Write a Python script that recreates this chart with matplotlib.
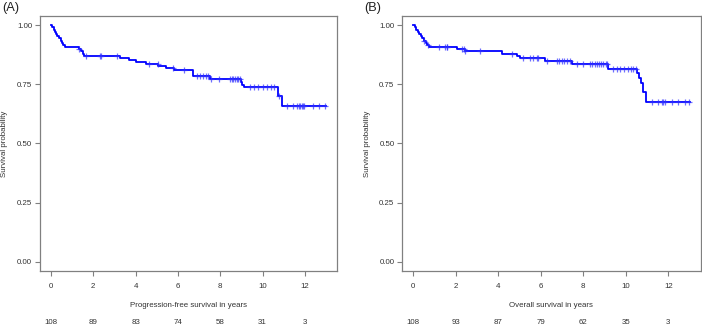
import matplotlib
matplotlib.use("Agg")
import matplotlib.pyplot as plt
import numpy as np

plt.rcParams['font.family'] = ['Liberation Sans', 'DejaVu Sans']

# Panel A: progression-free survival (step times, survival after step, censor times)
pfs_times = [0.00, 0.05, 0.12, 0.19, 0.25, 0.30, 0.38, 0.45, 0.50, 0.58, 0.65,
             1.30, 1.42, 1.50, 1.57, 3.25, 3.69, 4.04, 4.51, 5.06, 5.46, 5.82,
             6.72, 7.50, 8.98, 9.05, 9.12, 10.73, 10.90]
pfs_surv = [1.000, 0.991, 0.981, 0.972, 0.963, 0.954, 0.944, 0.935, 0.926, 0.917, 0.907,
            0.898, 0.889, 0.879, 0.870, 0.861, 0.852, 0.843, 0.834, 0.826, 0.818, 0.811,
            0.785, 0.772, 0.761, 0.749, 0.737, 0.701, 0.658]
pfs_censor = [1.33, 1.65, 2.30, 2.37, 3.10, 4.62, 5.05, 5.77, 6.28, 6.92, 7.03, 7.17,
              7.31, 7.41, 7.58, 7.93, 8.44, 8.55, 8.62, 8.70, 8.78, 8.85, 8.92, 9.39,
              9.62, 9.81, 10.00, 10.19, 10.38, 10.52, 10.80, 11.18, 11.42, 11.65, 11.72,
              11.78, 11.85, 11.90, 11.97, 12.37, 12.69, 12.97]
pfs_risk = [108, 89, 83, 74, 58, 31, 3]

# Panel B: overall survival
os_times = [0.00, 0.06, 0.13, 0.20, 0.28, 0.35, 0.42, 0.50, 0.58, 0.66, 0.76,
            2.04, 2.43, 4.16, 4.86, 5.00, 6.20, 7.45, 9.17, 10.55, 10.62, 10.70,
            10.80, 10.95]
os_surv = [1.000, 0.991, 0.981, 0.972, 0.963, 0.954, 0.944, 0.935, 0.926, 0.917, 0.907,
           0.898, 0.889, 0.880, 0.870, 0.860, 0.849, 0.837, 0.816, 0.796, 0.775, 0.754,
           0.718, 0.676]
os_censor = [0.52, 0.68, 1.22, 1.49, 1.57, 1.60, 2.28, 2.39, 2.45, 3.14, 4.63, 5.15,
             5.49, 5.62, 5.80, 5.85, 6.30, 6.75, 6.85, 6.98, 7.10, 7.22, 7.38, 7.69,
             8.00, 8.30, 8.42, 8.55, 8.65, 8.75, 8.85, 8.95, 9.05, 9.12, 9.41, 9.57,
             9.75, 9.92, 10.10, 10.25, 10.35, 10.46, 11.22, 11.53, 11.70, 11.76, 11.84,
             12.16, 12.47, 12.79, 12.99]
os_risk = [108, 93, 87, 79, 62, 35, 3]

risk_ticks = [0, 2, 4, 6, 8, 10, 12]
y_ticks = [0.0, 0.25, 0.5, 0.75, 1.0]

grey = '#808080'
txt = '#333333'
fs = 5.7


def km_panel(ax, times, surv, censor, risk, xlabel, tag, tag_x):
    t_end = 13.0
    ax.step(list(times) + [t_end], list(surv) + [surv[-1]], where='post',
            color='#0000ff', lw=1.3)
    idx = np.searchsorted(times, censor, side='right') - 1
    ax.plot(censor, np.asarray(surv)[idx], ls='none', marker='+', ms=5,
            mew=0.9, color='#3030ff', alpha=0.7)

    ax.set_xlim(-0.52, 13.52)
    ax.set_ylim(-0.04, 1.04)
    ax.set_xticks(risk_ticks)
    ax.set_yticks(y_ticks)
    ax.set_yticklabels([f'{v:.2f}' for v in y_ticks])
    ax.tick_params(direction='out', length=3.6, width=0.8, colors=grey,
                   labelcolor=txt, labelsize=fs)
    ax.tick_params(axis='x', pad=5)
    ax.tick_params(axis='y', pad=2)
    for s in ax.spines.values():
        s.set_color(grey)
        s.set_linewidth(0.9)

    ax.set_xlabel(xlabel, fontsize=fs, color=txt, va='center')
    ax.xaxis.set_label_coords(0.5, -0.136)
    ax.set_ylabel('Survival probability', fontsize=fs, color=txt, va='center')
    ax.yaxis.set_label_coords(-0.118, 0.5)

    for x, n in zip(risk_ticks, risk):
        ax.text(x, -0.201, str(n), transform=ax.get_xaxis_transform(),
                ha='center', va='center', fontsize=fs, color=txt)

    ax.figure.text(tag_x, 0.976, tag, ha='center', va='center', fontsize=9.2,
                   color='#222222')


fig = plt.figure(figsize=(7.02, 3.27), dpi=100)
ax1 = fig.add_axes([0.057, 0.171, 0.423, 0.781])
ax2 = fig.add_axes([0.573, 0.171, 0.425, 0.781])

km_panel(ax1, pfs_times, pfs_surv, pfs_censor, pfs_risk,
         'Progression-free survival in years', '(A)', 0.015)
km_panel(ax2, os_times, os_surv, os_censor, os_risk,
         'Overall survival in years', '(B)', 0.531)

fig.savefig('out.png', dpi=100)
